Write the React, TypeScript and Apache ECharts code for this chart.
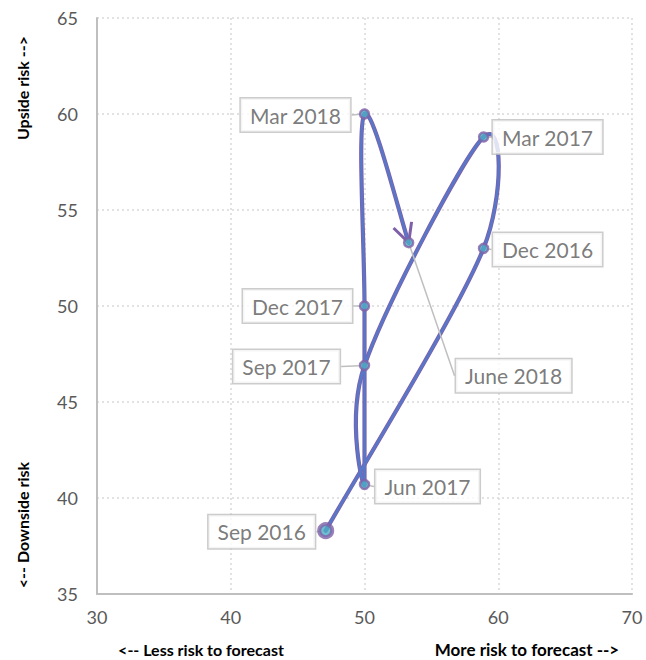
import React, { useEffect, useRef } from "react";
import * as echarts from "echarts";

// points in the order the line visits them (as drawn in the reference)
const periods = ["Sep 2016", "Dec 2016", "Mar 2017", "Sep 2017", "Jun 2017", "Dec 2017", "Mar 2018", "June 2018"];
const riskToForecast = [47.1, 58.9, 58.9, 50.0, 50.0, 50.0, 50.0, 53.3];
const upsideRisk = [38.3, 53.0, 58.8, 46.9, 40.7, 50.0, 60.0, 53.3];
const xTicks = [30, 40, 50, 60, 70];
const yTicks = [35, 40, 45, 50, 55, 60, 65];

// label box offsets (px) from each point
const labelOffsets: [number, number][] = [
  [-64, 1], [64, 1], [64, 0], [-78, 1], [63, 2], [-67, 0], [-69, 1], [105, 133],
];

const PURPLE = "#7F60A8";
const BLUE = "#5877C8";
const TEAL = "#4BACC6";

function makeRender(color: string, width: number, withArrow: boolean) {
  return (params: any, api: any) => {
    const n = riskToForecast.length;
    const i = params.dataIndex;
    if (i >= n - 1) return null;
    const P = (k: number) => {
      const kk = Math.max(0, Math.min(n - 1, k));
      return api.coord([riskToForecast[kk], upsideRisk[kk]]);
    };
    const p0 = P(i - 1), p1 = P(i), p2 = P(i + 1), p3 = P(i + 2);
    const d = (a: number[], b: number[]) => Math.hypot(a[0] - b[0], a[1] - b[1]);
    const d12 = d(p1, p2), d02 = d(p0, p2), d13 = d(p1, p3);
    let f1 = 1 / 6, f2 = 1 / 6;
    if (d02 * f1 > d12 / 2 && d02 > 0) f1 = d12 / 2 / d02;
    if (d13 * f2 > d12 / 2 && d13 > 0) f2 = d12 / 2 / d13;
    const c1 = [p1[0] + (p2[0] - p0[0]) * f1, p1[1] + (p2[1] - p0[1]) * f1];
    const c2 = [p2[0] - (p3[0] - p1[0]) * f2, p2[1] - (p3[1] - p1[1]) * f2];
    const children: any[] = [
      {
        type: "bezierCurve",
        shape: { x1: p1[0], y1: p1[1], x2: p2[0], y2: p2[1], cpx1: c1[0], cpy1: c1[1], cpx2: c2[0], cpy2: c2[1] },
        style: { stroke: color, lineWidth: width, fill: null, lineCap: "round" },
      },
    ];
    if (withArrow && i === n - 2) {
      const dx = p2[0] - c2[0], dy = p2[1] - c2[1];
      const L = Math.hypot(dx, dy) || 1;
      const ux = -dx / L, uy = -dy / L;
      const arm = 21, ang = (27 * Math.PI) / 180;
      const rot = (a: number) => [ux * Math.cos(a) - uy * Math.sin(a), ux * Math.sin(a) + uy * Math.cos(a)];
      const r1 = rot(ang), r2 = rot(-ang);
      children.push({
        type: "polyline",
        shape: { points: [[p2[0] + r1[0] * arm, p2[1] + r1[1] * arm], [p2[0], p2[1]], [p2[0] + r2[0] * arm, p2[1] + r2[1] * arm]] },
        style: { stroke: color, lineWidth: 3, fill: null, lineJoin: "miter" },
      });
    }
    return { type: "group", children };
  };
}

export default function App() {
  const ref = useRef<HTMLDivElement>(null);
  useEffect(() => {
    if (!ref.current) return;
    const chart = echarts.init(ref.current, undefined, { renderer: "svg" });
    const pts = periods.map((_, i) => [riskToForecast[i], upsideRisk[i]]);
    const axisCommon = {
      type: "value",
      axisLine: { show: true, onZero: false, lineStyle: { color: "#BFBFBF", width: 2 } },
      axisTick: { show: false },
      splitLine: { show: true, lineStyle: { color: "#D9D9D9", type: [2, 3], width: 1.5 } },
    };
    chart.setOption({
      animation: false,
      textStyle: { fontFamily: "Lato" },
      grid: { left: 97, right: 14, top: 18, bottom: 66 },
      xAxis: {
        ...axisCommon,
        min: xTicks[0],
        max: xTicks[xTicks.length - 1],
        interval: 10,
        axisLabel: { color: "#595959", fontSize: 18, margin: 14 },
      },
      yAxis: {
        ...axisCommon,
        min: yTicks[0],
        max: yTicks[yTicks.length - 1],
        interval: 5,
        axisLabel: { color: "#595959", fontSize: 18, margin: 19 },
      },
      series: [
        {
          type: "custom",
          data: pts,
          renderItem: makeRender(PURPLE, 4.2, true),
          z: 2,
          silent: true,
        },
        {
          type: "custom",
          data: pts,
          renderItem: makeRender(BLUE, 2.6, false),
          z: 3,
          silent: true,
        },
        {
          type: "scatter",
          z: 4,
          data: pts.map((p, i) => ({
            value: p,
            name: periods[i],
            symbolSize: i === 0 ? 13 : 9,
            itemStyle: { color: TEAL, borderColor: PURPLE, borderWidth: i === 0 ? 4 : 2.5 },
          })),
          symbol: "circle",
          label: {
            show: true,
            position: "inside",
            formatter: (p: any) => periods[p.dataIndex],
            color: "#595959",
            fontSize: 21,
            backgroundColor: "#fff",
            borderColor: "#BFBFBF",
            borderWidth: 1.5,
            padding: [6, 9, 6, 9],
          },
          labelLine: { show: true, lineStyle: { color: "#BFBFBF", width: 1.5 } },
          labelLayout: (params: any) => ({
            dx: labelOffsets[params.dataIndex][0],
            dy: labelOffsets[params.dataIndex][1],
          }),
        },
      ],
      graphic: [
        { type: "text", x: 22, y: 88, rotation: Math.PI / 2, style: { text: "Upside risk -->", font: "bold 16px Lato", fill: "#000", align: "center", verticalAlign: "middle" } },
        { type: "text", x: 22, y: 525, rotation: Math.PI / 2, style: { text: "<-- Downside risk", font: "bold 16px Lato", fill: "#000", align: "center", verticalAlign: "middle" } },
        { type: "text", x: 201, y: 649, style: { text: "<-- Less risk to forecast", font: "bold 16px Lato", fill: "#000", align: "center", verticalAlign: "middle" } },
        { type: "text", x: 527, y: 649, style: { text: "More risk to forecast -->", font: "bold 17px Lato", fill: "#000", align: "center", verticalAlign: "middle" } },
      ],
    });
    return () => chart.dispose();
  }, []);
  return <div ref={ref} style={{ width: 646, height: 660, position: "absolute", left: 0, top: 0 }} />;
}
